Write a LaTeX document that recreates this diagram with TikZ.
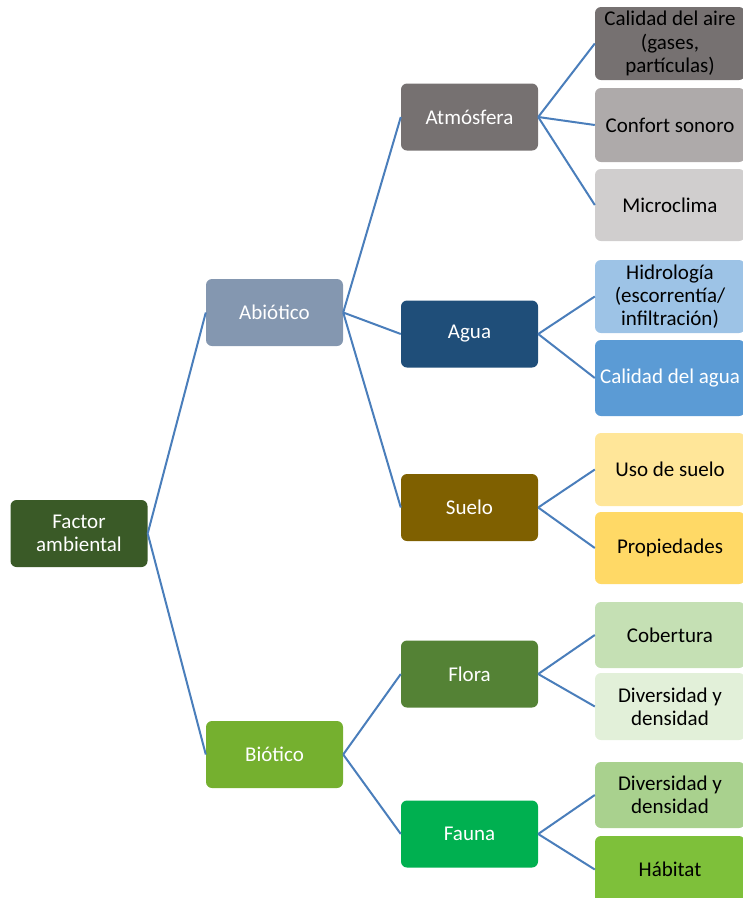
\documentclass[tikz,border=0pt]{standalone}
\usepackage{fontspec}
\setmainfont{Carlito}
\definecolor{cFactor}{HTML}{3A5A27}
\definecolor{cAbio}{HTML}{8497B0}
\definecolor{cBio}{HTML}{75B02F}
\definecolor{cAtm}{HTML}{767171}
\definecolor{cAgua}{HTML}{1F4E79}
\definecolor{cSuelo}{HTML}{7F6000}
\definecolor{cFlora}{HTML}{548235}
\definecolor{cFauna}{HTML}{00B050}
\definecolor{cAire}{HTML}{767171}
\definecolor{cConf}{HTML}{AEAAAA}
\definecolor{cMicro}{HTML}{D0CECE}
\definecolor{cHidro}{HTML}{9DC3E6}
\definecolor{cCagua}{HTML}{5B9BD5}
\definecolor{cUso}{HTML}{FFE699}
\definecolor{cProp}{HTML}{FFD966}
\definecolor{cCob}{HTML}{C5E0B4}
\definecolor{cDivf}{HTML}{E2F0D9}
\definecolor{cDiva}{HTML}{A9D18E}
\definecolor{cHab}{HTML}{7EC03A}
\definecolor{cLine}{HTML}{4A7EBB}
\begin{document}
\begin{tikzpicture}[x=1pt,y=-1pt,
  box/.style={rectangle, rounded corners=6pt, draw=none, align=center,
    font=\fontsize{21}{23.3}\selectfont, inner sep=2pt},
  mid/.style={box, minimum width=137pt, minimum height=67pt, text=white},
  leaf/.style={box, minimum width=150pt, text=black},
  link/.style={draw=cLine, line width=2pt}]
\useasboundingbox (0,0) rectangle (743,898);

\node[mid, fill=cFactor] (fa) at (79,533.5) {Factor\\ambiental};
\node[mid, fill=cAbio] (ab) at (274.5,312.5) {Abiótico};
\node[mid, fill=cBio] (bi) at (274.5,754.5) {Biótico};

\node[mid, fill=cAtm] (at) at (469.5,117) {Atmósfera};
\node[mid, fill=cAgua] (ag) at (469.5,334) {Agua};
\node[mid, fill=cSuelo] (su) at (469.5,507.5) {Suelo};
\node[mid, fill=cFlora] (fl) at (469.5,674) {Flora};
\node[mid, fill=cFauna] (fn) at (469.5,834) {Fauna};

\node[leaf, fill=cAire, minimum height=73pt] (l1) at (670,43.5) {Calidad del aire\\(gases,\\partículas)};
\node[leaf, fill=cConf, minimum height=74pt] (l2) at (670,125) {Confort sonoro};
\node[leaf, fill=cMicro, minimum height=72pt] (l3) at (670,205) {Microclima};
\node[leaf, fill=cHidro, minimum height=73pt] (l4) at (670,296.5) {Hidrología\\(escorrentía/\\infiltración)};
\node[leaf, fill=cCagua, minimum height=76pt, text=white] (l5) at (670,378) {Calidad del agua};
\node[leaf, fill=cUso, minimum height=73pt] (l6) at (670,469.5) {Uso de suelo};
\node[leaf, fill=cProp, minimum height=72pt] (l7) at (670,548) {Propiedades};
\node[leaf, fill=cCob, minimum height=66pt] (l8) at (670,635) {Cobertura};
\node[leaf, fill=cDivf, minimum height=67pt] (l9) at (670,706.5) {Diversidad y\\densidad};
\node[leaf, fill=cDiva, minimum height=66pt] (l10) at (670,795) {Diversidad y\\densidad};
\node[leaf, fill=cHab, minimum height=67pt] (l11) at (670,869.5) {Hábitat};

\draw[link] (fa.east) -- (ab.west);
\draw[link] (fa.east) -- (bi.west);
\draw[link] (ab.east) -- (at.west);
\draw[link] (ab.east) -- (ag.west);
\draw[link] (ab.east) -- (su.west);
\draw[link] (bi.east) -- (fl.west);
\draw[link] (bi.east) -- (fn.west);
\draw[link] (at.east) -- (l1.west);
\draw[link] (at.east) -- (l2.west);
\draw[link] (at.east) -- (l3.west);
\draw[link] (ag.east) -- (l4.west);
\draw[link] (ag.east) -- (l5.west);
\draw[link] (su.east) -- (l6.west);
\draw[link] (su.east) -- (l7.west);
\draw[link] (fl.east) -- (l8.west);
\draw[link] (fl.east) -- (l9.west);
\draw[link] (fn.east) -- (l10.west);
\draw[link] (fn.east) -- (l11.west);
\end{tikzpicture}
\end{document}
